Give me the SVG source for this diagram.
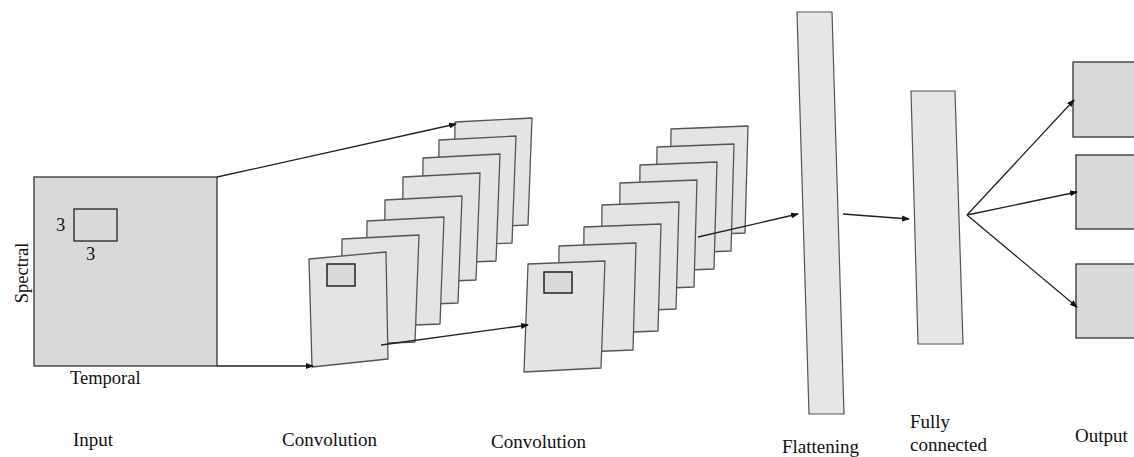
<svg xmlns="http://www.w3.org/2000/svg" width="1134" height="457" viewBox="0 0 1134 457">
<style>
text{font-family:'Liberation Serif','Times New Roman',serif;fill:#111}
.lbl{font-size:19px}
.ax{font-size:18.5px}
.inbox{fill:#d9d9d9;stroke:#333;stroke-width:1.3}
.card{fill:#e4e4e4;stroke:#555;stroke-width:1.3;stroke-linejoin:round}
.win{fill:#d9d9d9;stroke:#222;stroke-width:1.5}
.win0{fill:none;stroke:#222;stroke-width:1.3}
.bar{fill:#e6e6e6;stroke:#555;stroke-width:1.2}
.out{fill:#d9d9d9;stroke:#333;stroke-width:1.3}
.conn{stroke:#222;stroke-width:1.3;fill:none;marker-end:url(#ah)}
</style>
<defs>
<marker id="ah" markerUnits="userSpaceOnUse" markerWidth="8" markerHeight="6" refX="7" refY="3" orient="auto">
<path d="M0,0 L8,3 L0,6 z" fill="#111"/>
</marker>
<polygon id="bk1" points="0,0 77,-4 73,103 -1,106"/>
<polygon id="bk2" points="0,0 77,-3 74,104 -1,107"/>
</defs>
<rect width="1134" height="457" fill="#fff"/>

<g id="input">
<rect class="inbox" x="34" y="177" width="183" height="189"/>
<rect class="win0" x="74" y="209" width="43" height="32"/>
<text class="ax" x="56" y="231">3</text>
<text class="ax" x="86" y="260">3</text>
<text class="ax" transform="translate(28,273) rotate(-90)" text-anchor="middle">Spectral</text>
<text class="ax" x="70" y="384">Temporal</text>
<text class="lbl" x="73" y="446">Input</text>
</g>

<g id="conv1">
<use href="#bk1" class="card" x="455" y="122"/>
<use href="#bk1" class="card" x="439" y="140"/>
<use href="#bk1" class="card" x="423" y="158"/>
<use href="#bk1" class="card" x="403" y="177"/>
<use href="#bk1" class="card" x="385" y="200"/>
<use href="#bk1" class="card" x="367" y="221"/>
<use href="#bk1" class="card" x="342" y="239"/>
<polygon class="card" points="309,259 386,252 388,359 312,367"/>
<rect class="win" x="327" y="264" width="28" height="22"/>
<text class="lbl" x="282" y="446">Convolution</text>
</g>

<g id="conv2">
<use href="#bk2" class="card" x="671" y="129"/>
<use href="#bk2" class="card" x="657" y="147"/>
<use href="#bk2" class="card" x="640" y="165"/>
<use href="#bk2" class="card" x="620" y="183"/>
<use href="#bk2" class="card" x="602" y="205"/>
<use href="#bk2" class="card" x="584" y="227"/>
<use href="#bk2" class="card" x="559" y="246"/>
<polygon class="card" points="528,264 605,261 601,368 524,372"/>
<rect class="win" x="544" y="272" width="28" height="21"/>
<text class="lbl" x="491" y="448">Convolution</text>
</g>

<g id="flatten">
<polygon class="bar" points="797,12 832,12 844,414 809,414"/>
<text class="lbl" x="782" y="453">Flattening</text>
</g>

<g id="fc">
<polygon class="bar" points="911,91 955,91 963,344 918,344"/>
<text class="lbl" x="910" y="428">Fully</text>
<text class="lbl" x="910" y="451">connected</text>
</g>

<g id="output">
<rect class="out" x="1073" y="62" width="70" height="75"/>
<rect class="out" x="1076" y="155" width="70" height="74"/>
<rect class="out" x="1076" y="264" width="70" height="74"/>
<text class="lbl" x="1075" y="442">Output</text>
</g>

<g id="connectors">
<line class="conn" x1="217" y1="177" x2="456" y2="124"/>
<line class="conn" x1="217" y1="366" x2="313" y2="366"/>
<line class="conn" x1="381" y1="345" x2="528" y2="325"/>
<line class="conn" x1="698" y1="237" x2="798" y2="214"/>
<line class="conn" x1="843" y1="214" x2="909" y2="219"/>
<line class="conn" x1="967" y1="215" x2="1074" y2="100"/>
<line class="conn" x1="967" y1="215" x2="1077" y2="192"/>
<line class="conn" x1="967" y1="215" x2="1077" y2="307"/>
</g>
</svg>
